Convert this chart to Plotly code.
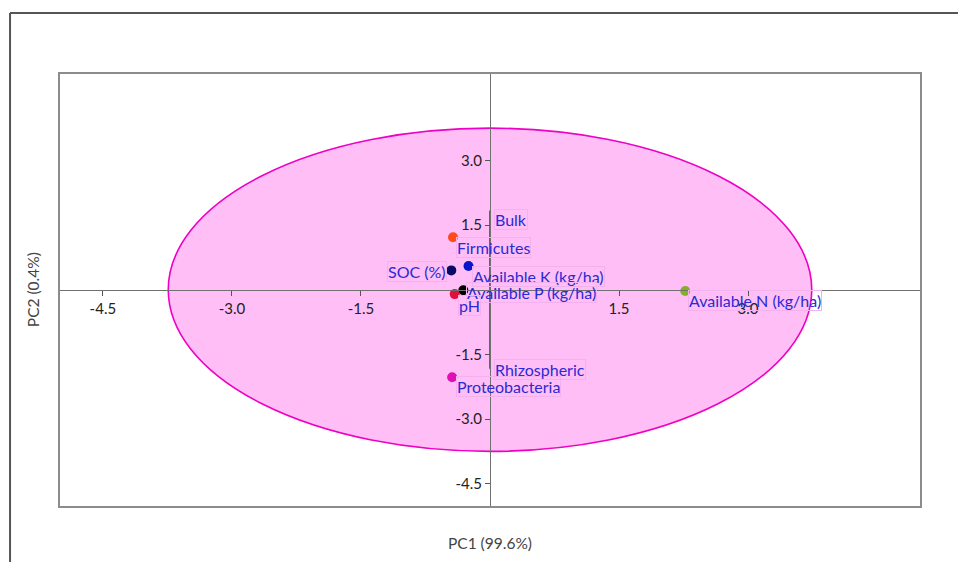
import plotly.graph_objects as go

# PCA scores of the variables (PC1, PC2)
names = ["Firmicutes", "SOC (%)", "Available K (kg/ha)", "Available P (kg/ha)",
         "pH", "Proteobacteria", "Available N (kg/ha)"]
pc1 = [-0.43, -0.45, -0.25, -0.31, -0.41, -0.44, 2.27]
pc2 = [1.22, 0.45, 0.55, -0.01, -0.10, -2.03, -0.03]
colors = ["#FF4A1A", "#0A0A66", "#0A14CC", "#000000", "#E0103A", "#E010B4", "#86B024"]

# Biplot loadings for the groups
groups = ["Bulk", "Rhizospheric"]
load_pc1 = [0.0, 0.0]
load_pc2 = [1.84, -1.83]

# 95% confidence ellipse (centre, half-axes)
ell_center = (0.0, 0.0)
ell_radius = (3.74, 3.75)

# axis ticks
xticks = [-4.5, -3.0, -1.5, 1.5, 3.0]
yticks = [3.0, 1.5, -1.5, -3.0, -4.5]

# label offsets in pixels (dx, dy to text centre, xanchor)
label_pos = {
    "Firmicutes": (3, -10, "left"),
    "SOC (%)": (-4, -1, "right"),
    "Available K (kg/ha)": (4, -10, "left"),
    "Available P (kg/ha)": (3, -2, "left"),
    "pH": (3, -11, "left"),
    "Proteobacteria": (4, -9, "left"),
    "Available N (kg/ha)": (3, -9, "left"),
    "Bulk": (4, -9, "left"),
    "Rhizospheric": (4, -1, "left"),
}

FONT = "Lato, 'Open Sans', sans-serif"
LABEL_COLOR = "#2A2AD4"

fig = go.Figure()

for gname, lx, ly in zip(groups, load_pc1, load_pc2):
    fig.add_trace(go.Scatter(x=[0, lx], y=[0, ly], mode="lines",
                             line=dict(color="#1B6E1B", width=1.6),
                             hoverinfo="skip", showlegend=False))

fig.add_trace(go.Scatter(x=pc1, y=pc2, mode="markers", text=names,
                         marker=dict(size=10, color=colors, line=dict(width=0)),
                         hoverinfo="text", showlegend=False))

annotations = []
for n, x, y in list(zip(names, pc1, pc2)) + list(zip(groups, load_pc1, load_pc2)):
    dx, dy, xa = label_pos[n]
    annotations.append(dict(x=x, y=y, xref="x", yref="y", text=n, showarrow=False,
                            xanchor=xa, yanchor="middle", xshift=dx, yshift=dy,
                            font=dict(family=FONT, size=16, color=LABEL_COLOR),
                            bordercolor="#F3B2EE", borderwidth=1, borderpad=0))

annotations += [
    dict(text="PC1 (99.6%)", xref="paper", yref="paper", x=0.5, y=-0.083,
         showarrow=False, xanchor="center", yanchor="middle",
         font=dict(family=FONT, size=15.5, color="#444444")),
    dict(text="PC2 (0.4%)", xref="paper", yref="paper", x=-0.030, y=0.5,
         showarrow=False, textangle=-90, xanchor="center", yanchor="middle",
         font=dict(family=FONT, size=15.5, color="#444444")),
]

shapes = [
    dict(type="circle", xref="x", yref="y", layer="below",
         x0=ell_center[0] - ell_radius[0], x1=ell_center[0] + ell_radius[0],
         y0=ell_center[1] - ell_radius[1], y1=ell_center[1] + ell_radius[1],
         fillcolor="#FFBFF6", line=dict(color="#EE00C4", width=1.6)),
    # plot frame
    dict(type="rect", xref="paper", yref="paper", x0=0, x1=1, y0=0, y1=1,
         line=dict(color="#8C8C8C", width=2)),
    # outer window frame
    dict(type="line", xref="paper", yref="paper", x0=-0.0568, x1=-0.0568, y0=-0.3, y1=1.1382,
         line=dict(color="#555555", width=2)),
    dict(type="line", xref="paper", yref="paper", x0=-0.0568, x1=1.2, y0=1.1382, y1=1.1382,
         line=dict(color="#555555", width=2)),
]

fig.update_layout(
    width=958, height=562,
    margin=dict(l=59, r=37, t=73, b=55),
    paper_bgcolor="white", plot_bgcolor="white",
    showlegend=False,
    annotations=annotations, shapes=shapes,
    font=dict(family=FONT, size=15, color="#222222"),
    xaxis=dict(range=[-5.01, 5.01], showgrid=False, zeroline=False,
               anchor="free", position=0.5, showline=True, linecolor="#707070", linewidth=1,
               ticks="outside", ticklen=5, tickcolor="#555555",
               tickvals=xticks, ticktext=[f"{v:.1f}" for v in xticks],
               tickfont=dict(family=FONT, size=15, color="#222222")),
    yaxis=dict(range=[-5.04, 5.03], showgrid=False, zeroline=False,
               anchor="free", position=0.5, showline=True, linecolor="#707070", linewidth=1,
               ticks="outside", ticklen=5, tickcolor="#555555",
               tickvals=yticks, ticktext=[f"{v:.1f}" for v in yticks],
               tickfont=dict(family=FONT, size=15, color="#222222")),
)

fig.write_html("out.html")
